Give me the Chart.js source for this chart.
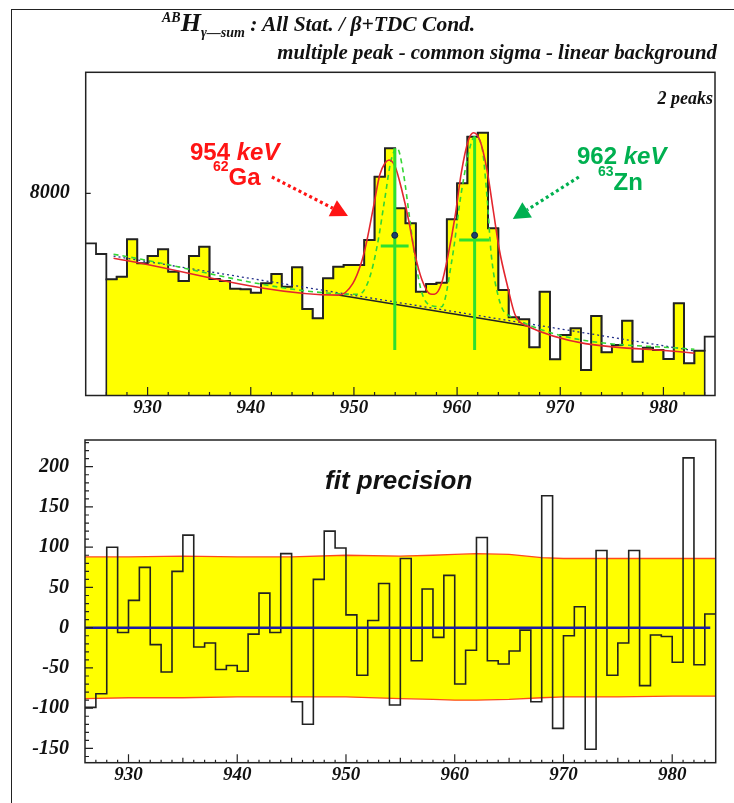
<!DOCTYPE html>
<html>
<head>
<meta charset="utf-8">
<script src="https://cdn.jsdelivr.net/npm/chart.js@4.4.1/dist/chart.umd.min.js"></script>
<style>
  html, body { margin: 0; padding: 0; background: #fff; }
  #page { position: relative; width: 734px; height: 803px; overflow: hidden; background: #fff; }
  #outer { position: absolute; left: 11px; top: 9px; width: 760px; height: 840px; border: 1.5px solid #222; }
  .panel { position: absolute; left: 0; width: 734px; }
  .serif { position: absolute; font-family: "Liberation Serif", "Times New Roman", serif; font-weight: bold; font-style: italic; color: #111; white-space: nowrap; }
  .sans { position: absolute; font-family: "Liberation Sans", Arial, sans-serif; font-weight: bold; white-space: nowrap; line-height: 24px; font-size: 24px; }
  .sup { position: relative; font-size: 14px; }
</style>
</head>
<body>
<div id="page">
  <div id="outer"></div>
  <div class="panel" style="top:0;height:425px"><canvas id="fitChart" width="734" height="425"></canvas></div>
  <div class="panel" style="top:425px;height:378px"><canvas id="residChart" width="734" height="378"></canvas></div>

  <div class="serif" style="left:162px;top:8px;line-height:30px">
    <span style="font-size:14px;position:relative;top:-9px">AB</span><span style="font-size:26px">H</span><span style="font-size:14px;position:relative;top:6px">γ—sum</span><span style="font-size:21.5px"> : All Stat. / β+TDC Cond.</span>
  </div>
  <div class="serif" style="right:17px;top:41px;font-size:20.8px;line-height:22px">multiple peak - common sigma - linear background</div>
  <div class="serif" style="right:21px;top:88px;font-size:18px;line-height:20px">2 peaks</div>

  <div class="sans" style="left:190px;top:140px;color:#ff1414">954 <i>keV</i></div>
  <div class="sans" style="left:213px;top:165px;color:#ff1414"><span class="sup" style="top:-14px">62</span>Ga</div>
  <div class="sans" style="left:577px;top:144px;color:#00b050">962 <i>keV</i></div>
  <div class="sans" style="left:598px;top:170px;color:#00b050"><span class="sup" style="top:-14px">63</span>Zn</div>

  <div class="sans" style="left:325px;top:466px;font-size:26px;line-height:28px;font-style:italic;color:#111">fit precision</div>
</div>

<script>
// ---- top panel: spectrum around 954 / 962 keV, 1 keV bins starting at 924 ----
const topFirstBin = 924;
const topCounts = [7500, 7393, 7140, 7166, 7540, 7300, 7373, 7440, 7216, 7123,
                   7373, 7466, 7143, 7123, 7046, 7040, 7006, 7100, 7193, 7066,
                   7260, 6843, 6750, 7150, 7266, 7283, 7283, 7533, 8166, 8450,
                   7850, 7700, 7016, 7093, 7106, 7740, 8100, 8566, 8606, 7650,
                   7033, 6760, 6740, 6460, 7016, 6340, 6583, 6650, 6233, 6773,
                   6410, 6483, 6726, 6316, 6456, 6433, 6343, 6900, 6300, 6426,
                   6566];
const fitRange = [926, 984];

// total fit (red)
const fitX = [926.7, 948.5, 949.9, 950.7, 951.2, 951.9, 952.5, 953.0, 953.4, 954.0,
              954.6, 955.3, 955.9, 956.6, 957.4, 957.8, 958.5, 959.1, 959.8, 960.4,
              961.1, 961.6, 962.2, 962.9, 963.5, 964.1, 964.9, 965.6, 966.6, 983];
const fitY = [7350, 6982, 7100, 7300, 7500, 7866, 8183, 8300, 8333, 8266,
              8050, 7733, 7400, 7133, 6993, 6990, 7100, 7366, 7766, 8200,
              8533, 8606, 8533, 8233, 7833, 7433, 7066, 6790, 6680, 6400];
// single peak components (green dashed)
const compX = [926.7, 950.5, 951.5, 952.3, 953.0, 953.6, 954.2, 954.8, 955.4, 956.0,
               956.6, 957.4, 958.5, 959.5, 960.4, 961.3, 961.7, 962.4, 962.9, 963.3,
               964.0, 964.8, 983];
const compY = [7390, 6990, 7150, 7500, 7950, 8330, 8450, 8200, 7750, 7300,
               7000, 6880, 6866, 7333, 8000, 8480, 8566, 8466, 7966, 7400,
               6966, 6790, 6440];
// linear background pieces
const bgDotX = [926.7, 983];
const bgDotY = [7372, 6425];
const bgLineX = [948.5, 966.8];
const bgLineY = [6982, 6674];
// centroid crosses
const peakX = [953.96, 961.7];
const errTop = [8450, 8566];
const errBottom = [6433, 6433];
const barY = [7473, 7533];
const barLo = [952.6, 960.2];
const barHi = [955.3, 963.1];
const dotY = [7580, 7580];

const topXTicks = [930, 940, 950, 960, 970, 980];
const topYTicks = [8000];

// ---- bottom panel: residuals, 1 keV bins starting at 926 ----
const resFirstBin = 926;
const residuals = [-99, -82, 100, -6, 34, 75, -21, -55, 70, 115,
                   -24, -19, -52, -47, -54, -8, 43, -6, 92, -92,
                   -120, 60, 120, 99, 16, -59, 9, 55, -96, 86,
                   -41, 48, -12, 65, -70, -28, 112, -41, -45, -29,
                   -3, -92, 164, -125, -10, 26, -151, 96, -59, -19,
                   96, -72, -9, -11, -43, 211, -46, 17];
const bandX = [926, 930, 935, 940, 945, 950, 955, 958, 960, 962, 965, 968, 970, 975, 980, 984];
const bandUp = [88, 88, 89, 88, 88, 90, 89, 90, 91, 92, 91, 87, 86, 86, 86, 86];
const bandLo = [-88, -87, -87, -86, -86, -86, -88, -89, -90, -90, -89, -87, -86, -86, -85, -85];
const zeroX = [926, 983.5];

const botXTicks = [930, 940, 950, 960, 970, 980];
const botYTicks = [-150, -100, -50, 0, 50, 100, 150, 200];

const serifFont = { family: '"Liberation Serif", "Times New Roman", serif', weight: 'bold', style: 'italic' };

function pts(xs, ys) { return xs.map((x, i) => ({ x: x, y: ys[i] })); }

function histPoints(first, values) {
    const p = values.map((v, i) => ({ x: first + i, y: v }));
    p.push({ x: first + values.length, y: values[values.length - 1] });
    return p;
}

// frame + ROOT-like ticks drawn inside the frame
const rootFrame = {
    id: 'rootFrame',
    afterDraw(chart, args, opts) {
        const { ctx, chartArea: a, scales } = chart;
        ctx.save();
        ctx.strokeStyle = '#222';
        ctx.lineWidth = 1.5;
        ctx.strokeRect(a.left, a.top, a.right - a.left, a.bottom - a.top);
        ctx.lineWidth = 1.2;
        ctx.beginPath();
        const xs = scales.x;
        for (let v = opts.xStart; v <= xs.max + 1e-6; v += opts.xStep) {
            const px = xs.getPixelForValue(v);
            if (px <= a.left + 1 || px >= a.right - 1) continue;
            const r = Math.round(v * 1000) / 1000;
            let len = opts.xMinor;
            if (r % 10 === 0) len = opts.xMajor;
            else if (opts.xMid && r % 5 === 0) len = opts.xMid;
            ctx.moveTo(px, a.bottom);
            ctx.lineTo(px, a.bottom - len);
        }
        const ys = scales.y;
        opts.yMarks.forEach(v => {
            const py = ys.getPixelForValue(v);
            if (py <= a.top + 1 || py >= a.bottom - 1) return;
            const len = (v % opts.yMajorEvery === 0) ? opts.yMajor : opts.yMinor;
            ctx.moveTo(a.left, py);
            ctx.lineTo(a.left + len, py);
        });
        ctx.stroke();
        ctx.restore();
    },
    afterDatasetsDraw(chart, args, opts) {
        if (!opts.arrows) return;
        const { ctx, scales } = chart;
        opts.arrows.forEach(ar => {
            const x0 = scales.x.getPixelForValue(ar.from[0]), y0 = scales.y.getPixelForValue(ar.from[1]);
            const x1 = scales.x.getPixelForValue(ar.to[0]), y1 = scales.y.getPixelForValue(ar.to[1]);
            const ang = Math.atan2(y1 - y0, x1 - x0);
            const headLen = 17, headW = 9;
            const bx = x1 - headLen * Math.cos(ang), by = y1 - headLen * Math.sin(ang);
            ctx.save();
            ctx.strokeStyle = ar.color;
            ctx.fillStyle = ar.color;
            ctx.lineWidth = 3.2;
            ctx.setLineDash([3, 3]);
            ctx.beginPath();
            ctx.moveTo(x0, y0);
            ctx.lineTo(bx, by);
            ctx.stroke();
            ctx.setLineDash([]);
            ctx.beginPath();
            ctx.moveTo(x1, y1);
            ctx.lineTo(bx + headW * Math.sin(ang), by - headW * Math.cos(ang));
            ctx.lineTo(bx - headW * Math.sin(ang), by + headW * Math.cos(ang));
            ctx.closePath();
            ctx.fill();
            ctx.restore();
        });
    }
};

function axisOpts(min, max, tickVals, fitSize, isX, fontSize, pad) {
    return {
        type: 'linear',
        min: min,
        max: max,
        afterBuildTicks: s => { s.ticks = tickVals.map(v => ({ value: v })); },
        afterFit: s => {
            if (isX) s.height = fitSize; else s.width = fitSize;
            s.paddingTop = 0; s.paddingBottom = 0; s.paddingLeft = 0; s.paddingRight = 0;
        },
        grid: { display: false, drawTicks: false },
        border: { display: false },
        ticks: {
            autoSkip: false, maxRotation: 0, padding: pad, color: '#111',
            font: Object.assign({ size: fontSize }, serifFont),
            callback: v => String(v)
        }
    };
}

const yMinTop = 5978, yMaxTop = 9210;
const fillPts = [{ x: fitRange[0], y: yMinTop }]
    .concat(topCounts.slice(fitRange[0] - topFirstBin, fitRange[1] - topFirstBin)
        .map((v, i) => ({ x: fitRange[0] + i, y: v })))
    .concat([{ x: fitRange[1], y: topCounts[fitRange[1] - topFirstBin - 1] }, { x: fitRange[1], y: yMinTop }]);

const lineBase = { pointRadius: 0, fill: false, tension: 0 };
const green = '#33d633';

const topDatasets = [
    Object.assign({}, lineBase, { data: fillPts, stepped: true, fill: 'start', backgroundColor: '#ffff00', borderColor: '#222', borderWidth: 1.6, order: 10 }),
    Object.assign({}, lineBase, { data: histPoints(topFirstBin, topCounts), stepped: true, borderColor: '#222', borderWidth: 1.8, order: 9 }),
    Object.assign({}, lineBase, { data: pts(bgLineX, bgLineY), borderColor: '#222', borderWidth: 1.5, order: 8 }),
    Object.assign({}, lineBase, { data: pts(bgDotX, bgDotY), borderColor: '#24308a', borderWidth: 1.3, borderDash: [2, 3], order: 7 }),
    Object.assign({}, lineBase, { data: pts(compX, compY), borderColor: green, borderWidth: 1.6, borderDash: [5, 4], cubicInterpolationMode: 'monotone', order: 6 }),
    Object.assign({}, lineBase, { data: pts(fitX, fitY), borderColor: '#e3262e', borderWidth: 1.6, cubicInterpolationMode: 'monotone', order: 5 })
];
peakX.forEach((px, i) => {
    topDatasets.push(Object.assign({}, lineBase, { data: [{ x: px, y: errTop[i] }, { x: px, y: errBottom[i] }], borderColor: '#2ee02e', borderWidth: 3, order: 3 }));
    topDatasets.push(Object.assign({}, lineBase, { data: [{ x: barLo[i], y: barY[i] }, { x: barHi[i], y: barY[i] }], borderColor: '#2ee02e', borderWidth: 3, order: 3 }));
});
topDatasets.push({ type: 'scatter', data: pts(peakX, dotY), pointRadius: 3, backgroundColor: '#1c3f6e', borderColor: '#0d2440', borderWidth: 1, order: 2 });

new Chart(document.getElementById('fitChart'), {
    type: 'line',
    data: { datasets: topDatasets },
    options: {
        responsive: false,
        devicePixelRatio: 1,
        animation: false,
        events: [],
        layout: { padding: { left: 0, right: 19, top: 72.3, bottom: 0 } },
        plugins: {
            legend: { display: false },
            tooltip: { enabled: false },
            rootFrame: {
                xStart: 926, xStep: 2, xMinor: 3.5, xMajor: 8.5,
                yMarks: topYTicks, yMajorEvery: 1000, yMajor: 5, yMinor: 5,
                arrows: [
                    { from: [942.05, 8163], to: [949.42, 7773], color: '#ff1414' },
                    { from: [971.8, 8163], to: [965.4, 7743], color: '#00b050' }
                ]
            }
        },
        scales: {
            x: axisOpts(924, 985, topXTicks, 29.5, true, 19, 1),
            y: axisOpts(yMinTop, yMaxTop, topYTicks, 85.7, false, 20, 16)
        }
    },
    plugins: [rootFrame]
});

new Chart(document.getElementById('residChart'), {
    type: 'line',
    data: {
        datasets: [
            Object.assign({}, lineBase, { data: zeroX.map(x => ({ x: x, y: 0 })), borderColor: '#1c1ca8', borderWidth: 2.5, order: 1 }),
            Object.assign({}, lineBase, { data: histPoints(resFirstBin, residuals), stepped: true, borderColor: '#222', borderWidth: 1.6, order: 2 }),
            Object.assign({}, lineBase, { data: pts(bandX, bandUp), borderColor: '#ff4a1a', borderWidth: 1.3, fill: '+1', backgroundColor: '#ffff00', order: 4 }),
            Object.assign({}, lineBase, { data: pts(bandX, bandLo), borderColor: '#ff4a1a', borderWidth: 1.3, order: 3 })
        ]
    },
    options: {
        responsive: false,
        devicePixelRatio: 1,
        animation: false,
        events: [],
        layout: { padding: { left: 0, right: 18.3, top: 15, bottom: 0 } },
        plugins: {
            legend: { display: false },
            tooltip: { enabled: false },
            rootFrame: {
                xStart: 926, xStep: 1, xMinor: 3, xMid: 5, xMajor: 8.5,
                yMarks: Array.from({ length: 40 }, (_, i) => -160 + i * 10),
                yMajorEvery: 50, yMajor: 8, yMinor: 4
            }
        },
        scales: {
            x: axisOpts(926, 984, botXTicks, 40.3, true, 19, 1),
            y: axisOpts(-167.7, 233.2, botYTicks, 85, false, 20, 16)
        }
    },
    plugins: [rootFrame]
});
</script>
</body>
</html>
